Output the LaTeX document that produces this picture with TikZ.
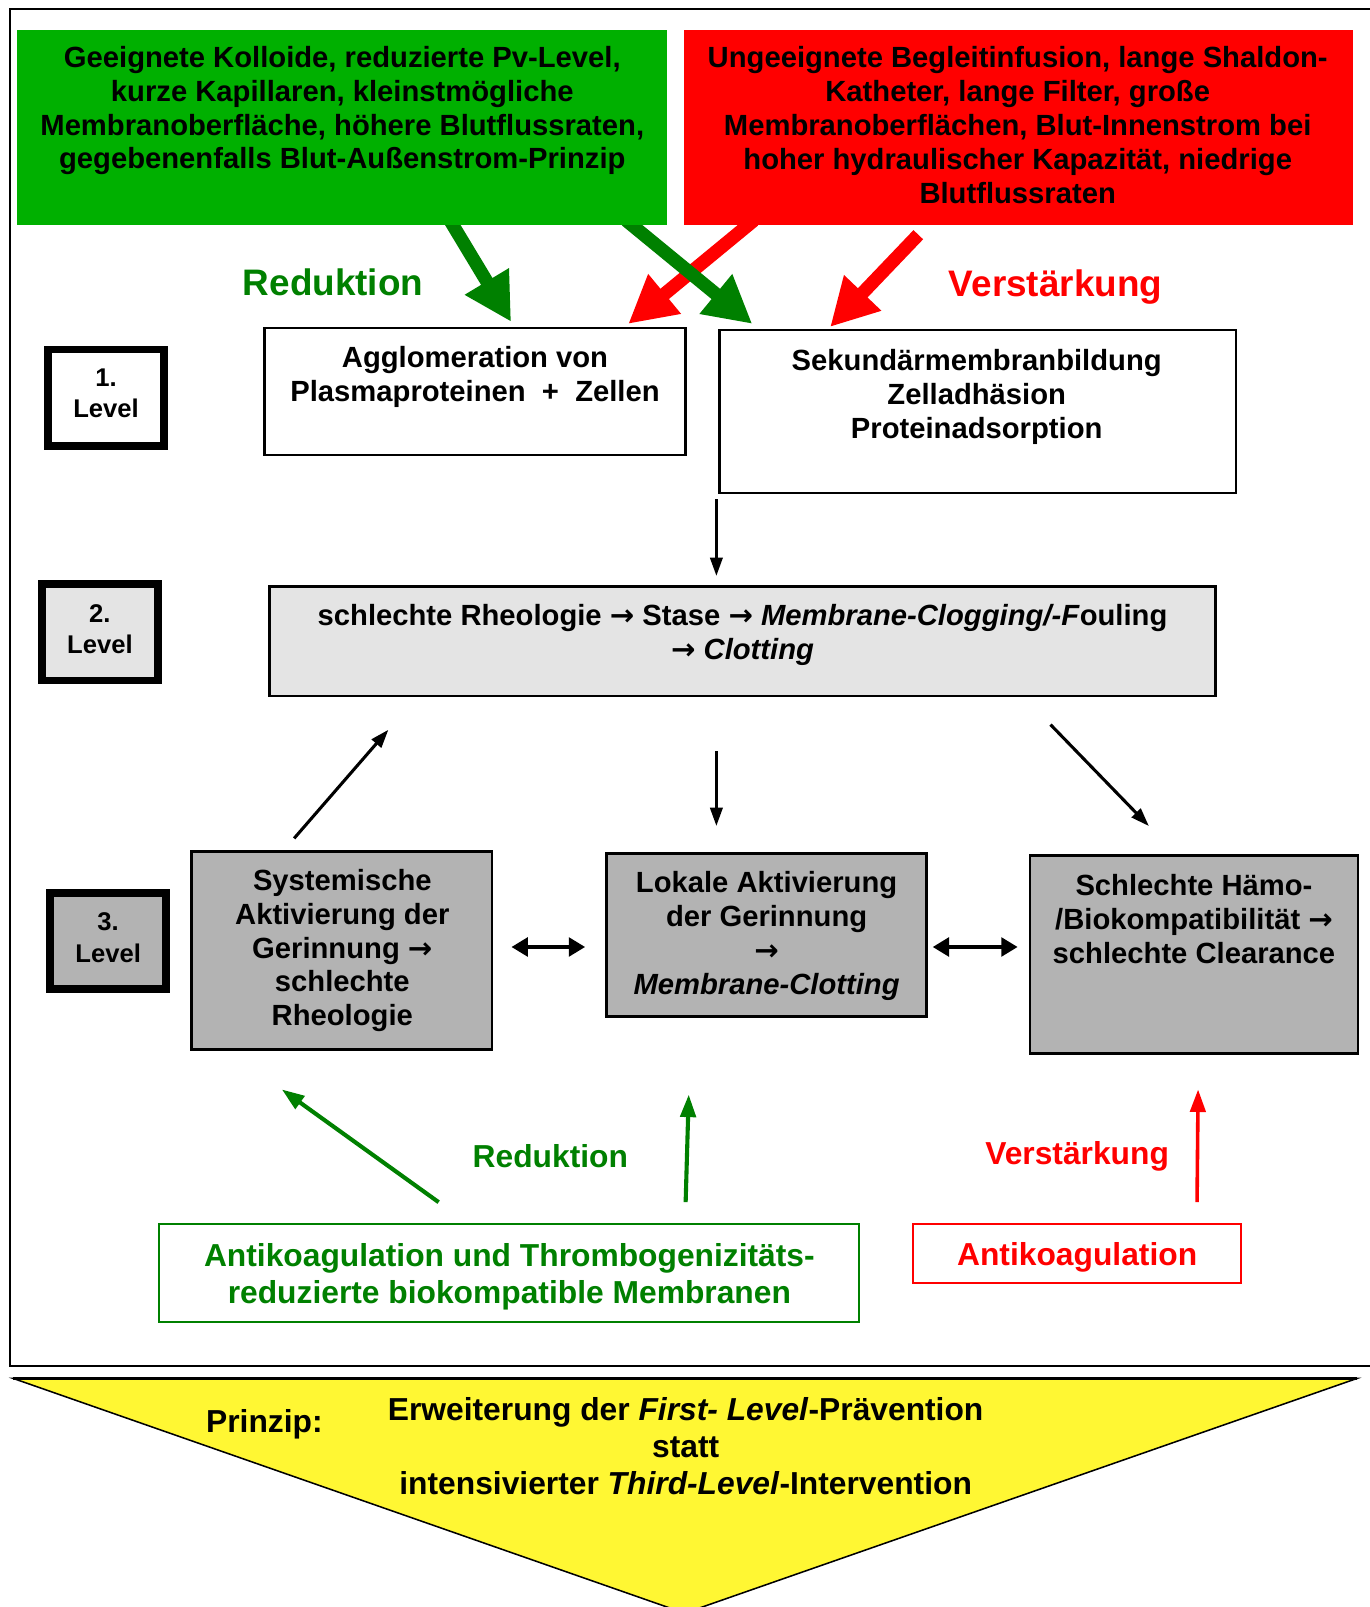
\documentclass[tikz,border=0pt]{standalone}
\usepackage{fontspec}
\setmainfont{Liberation Sans}
\newfontfamily\arrfont{DejaVu Sans}
\usetikzlibrary{arrows.meta,calc}
\pgfdeclarelayer{bg}
\pgfsetlayers{bg,main}
\definecolor{boxgreen}{RGB}{0,176,0}
\definecolor{dgreen}{RGB}{0,128,0}
\definecolor{lgray}{RGB}{228,228,228}
\definecolor{mgray}{RGB}{179,179,179}
\definecolor{tyellow}{RGB}{255,247,51}
\newcommand\fsz[2]{\fontsize{#1}{#2}\selectfont}
\newcommand\arr{{\arrfont\bfseries →}}
\begin{document}
\begin{tikzpicture}[x=1pt,y=-1pt,
  box/.style={draw=black,line width=2.5pt,rectangle,inner sep=0pt},
  txt/.style={inner sep=0pt,align=center,font=\fsz{28.5}{33}\bfseries},
  txtb/.style={inner sep=0pt,align=center,font=\fsz{31}{36.5}\bfseries},
  lvl/.style={draw=black,line width=7.5pt,minimum width=113pt,minimum height=94pt,inner sep=0pt},
  lvltxt/.style={inner sep=0pt,align=center,font=\fsz{25}{30.5}\bfseries},
  bigarrow/.style={line width=13pt,-{Triangle[length=46pt,width=47pt]}},
  thinarrow/.style={line width=3pt,-{Triangle[length=18pt,width=12pt]}},
  dblarrow/.style={line width=4.5pt,{Triangle[length=16pt,width=18pt]}-{Triangle[length=16pt,width=18pt]}},
  colarrow/.style={line width=4pt,-{Triangle[length=22pt,width=15pt]}},
  biglabel/.style={inner sep=0pt,anchor=base,font=\fsz{36}{40}\bfseries},
  smlabel/.style={inner sep=0pt,anchor=base,font=\fsz{31}{36}\bfseries}
]
\useasboundingbox (0,0) rectangle (1336,1568);
\begin{pgfonlayer}{bg}
\fill[white] (0,0) rectangle (1336,1568);
\end{pgfonlayer}

% outer frame
\draw[line width=2pt] (10,9) rectangle (1352,1333);

% top boxes
\node[box,fill=boxgreen,draw=none,minimum width=634pt,minimum height=191pt] (gbox) at (334,124.5) {};
\node[txt] (gtxt) at (334,108) {Geeignete Kolloide, reduzierte Pv-Level,\\kurze Kapillaren, kleinstmögliche\\Membranoberfläche, höhere Blutflussraten,\\gegebenenfalls Blut-Außenstrom-Prinzip};
\node[box,fill=red,draw=none,minimum width=653pt,minimum height=191pt] (rbox) at (993.5,124.5) {};
\node[txt] (rtxt) at (993,122) {Ungeeignete Begleitinfusion, lange Shaldon-\\Katheter, lange Filter, große\\Membranoberflächen, Blut-Innenstrom bei\\hoher hydraulischer Kapazität, niedrige\\Blutflussraten};

% labels
\node[biglabel,text=dgreen] (redtop) at (325,288) {Reduktion};
\node[biglabel,text=red] (vertop) at (1030,289) {Verstärkung};

% level labels
\node[lvl,fill=white] (l1) at (103.5,388) {};
\node[lvltxt] (l1t) at (103.5,384) {1.\\Level};
\node[lvl,fill=lgray] (l2) at (97.5,617) {};
\node[lvltxt] (l2t) at (97.5,614) {2.\\Level};
\node[lvl,fill=mgray] (l3) at (105.5,918) {};
\node[lvltxt] (l3t) at (105.5,915) {3.\\Level};

% level 1
\node[box,fill=white,minimum width=411pt,minimum height=124pt] (agg) at (463.5,382) {};
\node[txt] (aggt) at (463.5,368) {Agglomeration von\\Plasmaproteinen~ +~ Zellen};
\node[box,fill=white,minimum width=504pt,minimum height=159pt] (sek) at (954,401.5) {};
\node[txt] (sekt) at (953,387.5) {Sekundärmembranbildung\\Zelladhäsion\\Proteinadsorption};

% level 2
\node[box,fill=lgray,minimum width=923pt,minimum height=107pt] (lv2) at (724.5,625.5) {};
\node[txt] (lv2t) at (724.5,619.5) {schlechte Rheologie \arr{} Stase \arr{} \textit{Membrane-Clogging/-F}ouling\\\arr{} \textit{Clotting}};

% level 3
\node[box,fill=mgray,minimum width=293pt,minimum height=193pt] (sys) at (333.5,927.5) {};
\node[txt] (syst) at (334,927.5) {Systemische\\Aktivierung der\\Gerinnung \arr\\schlechte\\Rheologie};
\node[box,fill=mgray,minimum width=312pt,minimum height=159pt] (lok) at (748,912.5) {};
\node[txt] (lokt) at (748,913) {Lokale Aktivierung\\der Gerinnung\\\arr\\\textit{Membrane-Clotting}};
\node[box,fill=mgray,minimum width=320pt,minimum height=193pt] (ham) at (1165,931.5) {};
\node[txt] (hamt) at (1165,896.5) {Schlechte Hämo-\\/Biokompatibilität \arr\\schlechte Clearance};

% bottom boxes
\node[draw=dgreen,line width=2pt,fill=white,minimum width=683pt,minimum height=96pt,inner sep=0pt] (gb) at (496.5,1242) {};
\node[txtb,text=dgreen] (gbt) at (497,1245.5) {Antikoagulation und Thrombogenizitäts-\\reduzierte biokompatible Membranen};
\node[draw=red,line width=2pt,fill=white,minimum width=320pt,minimum height=58pt,inner sep=0pt] (rb) at (1051,1223) {};
\node[txtb,text=red] (rbt) at (1051,1227) {Antikoagulation};

\node[smlabel,text=dgreen] (redbot) at (537,1139) {Reduktion};
\node[smlabel,text=red] (verbot) at (1051,1136) {Verstärkung};

% big block arrows (behind boxes)
\coordinate (ga1s) at (437.8,212.9); \coordinate (ga1e) at (498.7,314);
\coordinate (ga2s) at (611,215);     \coordinate (ga2e) at (734,316);
\coordinate (ra1s) at (735.6,215);   \coordinate (ra1e) at (613,316);
\coordinate (ra2s) at (896,229);     \coordinate (ra2e) at (810,319);
\begin{pgfonlayer}{bg}
\draw[bigarrow,red] (ra2s) -- (ra2e);
\draw[bigarrow,red] (ra1s) -- (ra1e);
\draw[bigarrow,dgreen] (ga1s) -- (ga1e);
\draw[bigarrow,dgreen] (ga2s) -- (ga2e);
\end{pgfonlayer}

% black arrows
\coordinate (k1s) at (699,487);  \coordinate (k1e) at (699,562);
\coordinate (k2s) at (287,818);  \coordinate (k2e) at (379,712);
\coordinate (k3s) at (699,733);  \coordinate (k3e) at (699,806);
\coordinate (k4s) at (1025,707); \coordinate (k4e) at (1121,806);
\draw[thinarrow] (k1s) -- (k1e);
\draw[thinarrow] (k2s) -- (k2e);
\draw[thinarrow] (k3s) -- (k3e);
\draw[thinarrow] (k4s) -- (k4e);

\coordinate (d1a) at (499,924); \coordinate (d1b) at (571,924);
\coordinate (d2a) at (910,924); \coordinate (d2b) at (993,924);
\draw[dblarrow] (d1a) -- (d1b);
\draw[dblarrow] (d2a) -- (d2b);

% coloured bottom arrows
\coordinate (c1s) at (428,1173);  \coordinate (c1e) at (275,1063);
\coordinate (c2s) at (669,1173);  \coordinate (c2e) at (672,1068);
\coordinate (c3s) at (1168,1173); \coordinate (c3e) at (1169,1063);
\draw[colarrow,dgreen] (c1s) -- (c1e);
\draw[colarrow,dgreen] (c2s) -- (c2e);
\draw[colarrow,red,line width=3.5pt] (c3s) -- (c3e);

% triangle
\coordinate (tl) at (13,1345);
\coordinate (tr) at (1324,1345);
\coordinate (tb) at (668,1574);
\draw[fill=tyellow,line width=1.5pt,line join=miter] (tl) -- (tr) -- (tb) -- cycle;
\draw[line width=3pt] (tl) -- (tr);
\node[txtb] (prz) at (258,1390) {Prinzip:};
\node[txtb] (ptxt) at (669,1411) {Erweiterung der \textit{First- Level}-Prävention\\statt\\intensivierter \textit{Third-Level}-Intervention};
\end{tikzpicture}
\end{document}
